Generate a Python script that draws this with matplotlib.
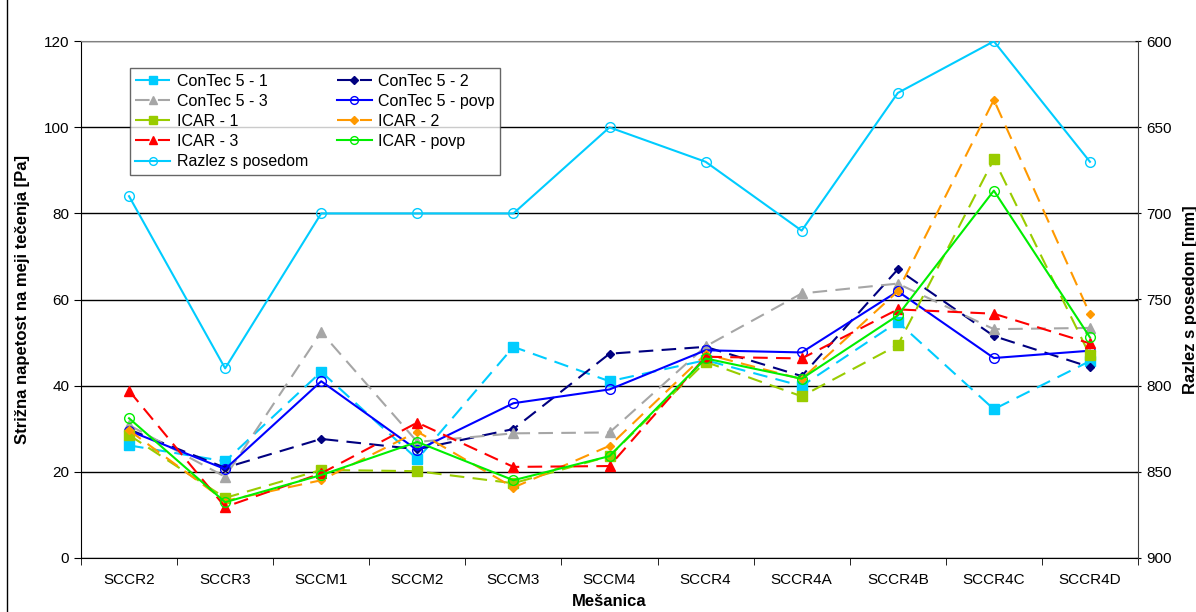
import matplotlib
matplotlib.use('Agg')
import matplotlib.pyplot as plt
from matplotlib.patches import Rectangle

plt.rcParams['font.family'] = ['Liberation Sans', 'DejaVu Sans']

mixes = ['SCCR2', 'SCCR3', 'SCCM1', 'SCCM2', 'SCCM3', 'SCCM4',
         'SCCR4', 'SCCR4A', 'SCCR4B', 'SCCR4C', 'SCCR4D']

contec_1 = [26.1, 22.4, 43.2, 22.9, 49.0, 41.0, 45.9, 39.9, 54.8, 34.5, 45.7]
contec_2 = [29.8, 20.9, 27.6, 25.2, 29.9, 47.4, 49.0, 42.2, 67.0, 51.5, 44.3]
contec_3 = [30.8, 18.8, 52.4, 26.9, 28.9, 29.1, 49.1, 61.4, 63.7, 53.1, 53.4]
contec_avg = [29.5, 20.6, 41.0, 25.0, 35.9, 39.1, 48.2, 47.7, 61.9, 46.4, 48.1]
icar_1 = [28.5, 13.9, 20.4, 20.1, 17.3, 23.6, 45.5, 37.5, 49.4, 92.6, 47.0]
icar_2 = [29.6, 13.2, 18.0, 29.3, 16.3, 26.0, 47.3, 41.5, 61.9, 106.4, 56.6]
icar_3 = [38.8, 11.8, 19.6, 31.4, 21.1, 21.3, 46.7, 46.3, 57.7, 56.7, 49.8]
icar_avg = [32.4, 12.9, 19.2, 26.9, 18.0, 23.6, 46.3, 41.6, 56.3, 85.3, 51.2]
slump_flow = [690, 790, 700, 700, 700, 650, 670, 710, 630, 600, 670]

series = [
    ('ConTec 5 - 1', contec_1, '#00CCFF', 's', True),
    ('ConTec 5 - 2', contec_2, '#000080', 'D', True),
    ('ConTec 5 - 3', contec_3, '#A6A6A6', '^', True),
    ('ConTec 5 - povp', contec_avg, '#0000FF', 'o', False),
    ('ICAR - 1', icar_1, '#99CC00', 's', True),
    ('ICAR - 2', icar_2, '#FF9900', 'D', True),
    ('ICAR - 3', icar_3, '#FF0000', '^', True),
    ('ICAR - povp', icar_avg, '#00EE00', 'o', False),
]

fig = plt.figure(figsize=(11.96, 6.12), dpi=100)
ax = fig.add_axes([81 / 1196, 54.3 / 612, 1057 / 1196, 516.4 / 612])
x = list(range(len(mixes)))

handles = []
for name, vals, col, mk, dashed in series:
    kw = dict(color=col, lw=1.5, label=name)
    if dashed:
        kw['dashes'] = (7, 4)
    if mk == 'o':
        kw.update(marker='o', ms=7, mfc='none', mec=col, mew=1.0)
    elif mk == 'D':
        kw.update(marker='D', ms=4.5, mfc=col, mec=col)
    else:
        kw.update(marker=mk, ms=6.5, mfc=col, mec=col)
    h, = ax.plot(x, vals, **kw)
    handles.append(h)

ax.set_xlim(-0.5, len(mixes) - 0.5)
ax.set_ylim(0, 120)
ax.set_yticks(range(0, 121, 20))
ax.set_xticks(x)
ax.set_xticklabels(mixes, fontsize=11)
ax.set_xticks([i - 0.5 for i in range(len(mixes) + 1)], minor=True)
ax.tick_params(axis='x', which='major', length=0, pad=11)
ax.tick_params(axis='x', which='minor', length=5, direction='out')
ax.tick_params(axis='y', labelsize=11, length=5, direction='out')
ax.grid(axis='y', color='black', lw=1.0)
ax.set_axisbelow(True)
ax.spines['top'].set_color('#808080')
ax.spines['right'].set_visible(False)
ax.set_ylabel('Strižna napetost na meji tečenja [Pa]', fontsize=12,
              fontweight='bold', labelpad=10)
ax.set_xlabel('Mešanica', fontsize=12, fontweight='bold', labelpad=5)

ax2 = ax.twinx()
h, = ax2.plot(x, slump_flow, color='#00CCFF', lw=1.5, marker='o', ms=7,
              mfc='none', mec='#00CCFF', mew=1.0, label='Razlez s posedom')
handles.append(h)
ax2.set_ylim(900, 600)
ax2.set_yticks(range(600, 901, 50))
ax2.tick_params(axis='y', labelsize=11, length=5, direction='inout')
for s in ['top', 'left', 'bottom']:
    ax2.spines[s].set_visible(False)
ax2.spines['right'].set_color('#404040')
ax2.set_ylabel('Razlez s posedom [mm]', fontsize=12, fontweight='bold', labelpad=8)

# legend is read row by row in the reference
order = [0, 2, 4, 6, 8, 1, 3, 5, 7]
leg = ax2.legend(handles=[handles[i] for i in order], ncol=2, loc='upper left',
                 bbox_to_anchor=(0.046, 0.948), borderaxespad=0, fontsize=11.5,
                 frameon=True, fancybox=False, edgecolor='#404040',
                 handlelength=2.2, handletextpad=0.4, columnspacing=1.8,
                 labelspacing=0.32, borderpad=0.35, markerscale=0.8)
leg.get_frame().set_linewidth(1.0)

fig.patches.append(Rectangle((7 / 1196, -0.05), 1.2, 1.2, transform=fig.transFigure,
                             fill=False, edgecolor='black', lw=1.0))

fig.savefig('out.png', dpi=100)
